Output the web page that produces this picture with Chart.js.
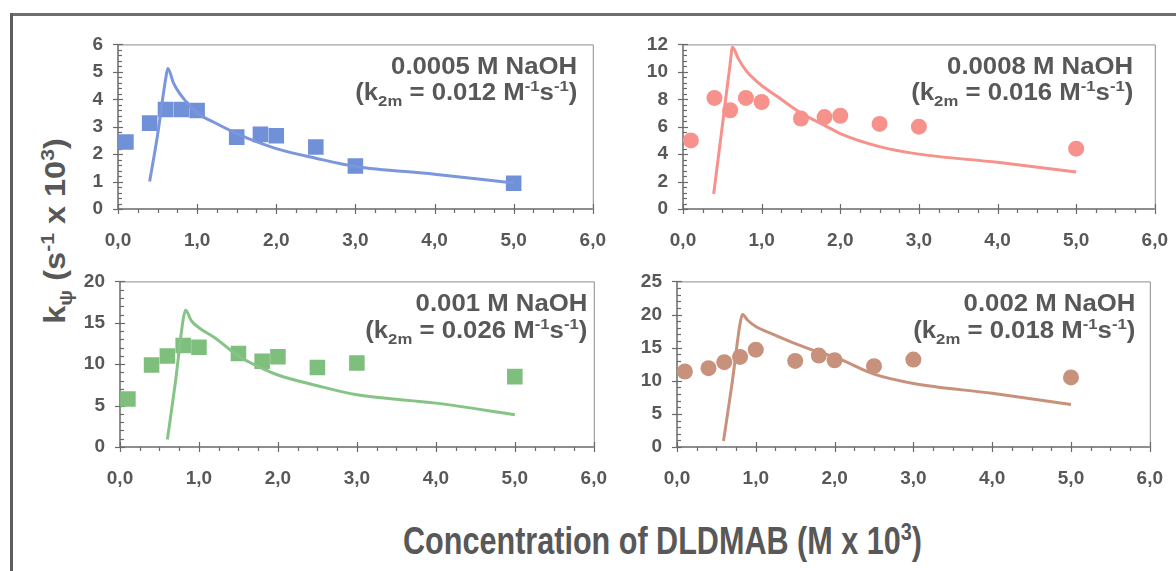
<!DOCTYPE html>
<html><head><meta charset="utf-8">
<script src="https://cdn.jsdelivr.net/npm/chart.js@4.4.0/dist/chart.umd.min.js"></script>
<style>
html,body{margin:0;padding:0;background:#fff;width:1176px;height:571px;overflow:hidden;position:relative;font-family:"Liberation Sans",Arial,sans-serif;}
canvas{position:absolute;}
.frameTop{position:absolute;left:10px;top:13px;width:1166px;height:3px;background:#6e6e6e;}
.frameLeft{position:absolute;left:10px;top:13px;width:3px;height:560px;background:#5e5e5e;}
.ann{position:absolute;white-space:nowrap;font-weight:bold;font-size:23px;line-height:23px;color:#585858;transform:scaleX(1.12);transform-origin:right center;}
.ann sup,.ann sub{font-size:65%;line-height:0;}
#ytitle{position:absolute;left:55px;top:231px;white-space:nowrap;font-weight:bold;font-size:29px;line-height:30px;color:#585858;transform:translate(-50%,-50%) rotate(-90deg) scaleX(1.12);}
#ytitle sup,#ytitle sub{font-size:65%;line-height:0;}
#xtitle{position:absolute;left:403px;top:521px;white-space:nowrap;font-weight:bold;font-size:38px;line-height:40px;color:#585858;font-family:"Liberation Sans Narrow","Arial Narrow","Liberation Sans",sans-serif;transform-origin:left center;}
#xtitle sup{font-size:65%;line-height:0;}
</style>
</head><body>
<div class="frameTop"></div><div class="frameLeft"></div>
<div id="ytitle">k<sub>ψ</sub> (s<sup>-1</sup> x 10<sup>3</sup>)</div>
<div id="xtitle">Concentration of DLDMAB (M x 10<sup>3</sup>)</div>
<script>
// ---------- data ----------
const xTickLabels = ['0,0','1,0','2,0','3,0','4,0','5,0','6,0'];
const concObs = [0.1, 0.4, 0.6, 0.8, 1.0, 1.5, 1.8, 2.0, 2.5, 3.0, 5.0];

const kObs0005 = [2.44, 3.13, 3.63, 3.63, 3.59, 2.62, 2.72, 2.67, 2.26, 1.57, 0.94];
const kObs0008 = [5.0, 8.1, 7.2, 8.1, 7.8, 6.6, 6.7, 6.8, 6.2, 6.0, 4.4];
const kObs001  = [5.8, 9.9, 11.0, 12.25, 12.05, 11.3, 10.35, 10.9, 9.6, 10.15, 8.5];
const kObs002  = [11.4, 11.9, 12.8, 13.6, 14.7, 13.0, 13.8, 13.1, 12.2, 13.2, 10.5];

const concFit0005 = [0.4, 0.5, 0.6, 0.63, 0.7, 0.77, 0.85, 1.0, 1.2, 1.5, 1.8, 2.0, 2.5, 3.0, 4.0, 5.0];
const kFit0005    = [1.0, 2.7, 4.7, 5.12, 4.6, 4.25, 3.95, 3.5, 3.18, 2.75, 2.4, 2.2, 1.85, 1.55, 1.27, 0.95];
const concFit0008 = [0.39, 0.5, 0.6, 0.63, 0.7, 0.8, 0.9, 1.0, 1.2, 1.5, 1.8, 2.0, 2.5, 3.0, 4.0, 5.0];
const kFit0008    = [1.1, 6.05, 10.6, 11.8, 11.0, 10.1, 9.5, 9.0, 8.2, 7.0, 6.1, 5.5, 4.55, 4.0, 3.4, 2.7];
const concFit001  = [0.6, 0.7, 0.8, 0.83, 0.9, 1.0, 1.2, 1.5, 1.8, 2.0, 2.5, 3.0, 4.0, 5.0];
const kFit001     = [0.9, 7.7, 15.4, 16.55, 15.3, 14.4, 13.2, 11.0, 9.5, 8.7, 7.4, 6.3, 5.3, 3.9];
const concFit002  = [0.59, 0.7, 0.8, 0.83, 0.9, 1.0, 1.2, 1.5, 1.8, 2.0, 2.5, 3.0, 4.0, 5.0];
const kFit002     = [0.9, 9.7, 18.6, 20.0, 19.1, 18.2, 17.1, 15.6, 14.3, 13.6, 11.0, 9.6, 8.1, 6.4];

const yTicks0005 = [0, 1, 2, 3, 4, 5, 6];
const yTicks0008 = [0, 2, 4, 6, 8, 10, 12];
const yTicks001  = [0, 5, 10, 15, 20];
const yTicks002  = [0, 5, 10, 15, 20, 25];

const naohLabels = ['0.0005 M NaOH', '0.0008 M NaOH', '0.001 M NaOH', '0.002 M NaOH'];
const k2mValues  = ['0.012', '0.016', '0.026', '0.018'];

// ---------- layout / style ----------
const panels = [
  {obs:kObs0005, fx:concFit0005, fy:kFit0005, yt:yTicks0005, yMinor:0.2, color:'#7090d8', line:'#7a96dc', style:'rect', r:11,
   box:{L:118,R:596,T:44,B:209}, annR:577, b1:74, b2:100},
  {obs:kObs0008, fx:concFit0008, fy:kFit0008, yt:yTicks0008, yMinor:0.4, color:'#f6918b', line:'#f6918b', style:'circle', r:8,
   box:{L:683,R:1158,T:44,B:209}, annR:1133, b1:74, b2:100},
  {obs:kObs001, fx:concFit001, fy:kFit001, yt:yTicks001, yMinor:1, color:'#7ebf7e', line:'#86c486', style:'rect', r:11,
   box:{L:120,R:597,T:281,B:447}, annR:587, b1:311, b2:338},
  {obs:kObs002, fx:concFit002, fy:kFit002, yt:yTicks002, yMinor:1, color:'#c8917c', line:'#c8917c', style:'circle', r:8,
   box:{L:677,R:1153,T:281,B:447}, annR:1135, b1:311, b2:338}
];

const TXT = '#585858';
const tickFont = {family:'Liberation Sans', size:19, weight:700};
const YPAD = 15;

const axisFrame = {
  id:'axisFrame',
  beforeDatasetsDraw(chart, args, o){
    const {ctx, chartArea:a, scales:{x, y}} = chart;
    ctx.save();
    ctx.strokeStyle = '#8c8c8c'; ctx.lineWidth = 1;
    ctx.beginPath();
    ctx.moveTo(a.left, a.top + 0.5); ctx.lineTo(a.right + 0.5, a.top + 0.5); ctx.lineTo(a.right + 0.5, a.bottom);
    ctx.stroke();
    ctx.strokeStyle = '#6a6a6a'; ctx.lineWidth = 1.5;
    ctx.beginPath();
    ctx.moveTo(a.left, a.top); ctx.lineTo(a.left, a.bottom); ctx.lineTo(a.right, a.bottom);
    ctx.stroke();
    ctx.lineWidth = 1.2;
    const nx = Math.round((x.max - x.min) / o.xMinor);
    for (let i = 0; i <= nx; i++) {
      const v = x.min + i * o.xMinor;
      const major = Math.abs(v / o.xMajor - Math.round(v / o.xMajor)) < 1e-6;
      const px = Math.round(x.getPixelForValue(v)) + 0.5;
      ctx.beginPath();
      ctx.moveTo(px, a.bottom + (major ? 5 : 4));
      ctx.lineTo(px, a.bottom - (major ? 5 : 0));
      ctx.stroke();
    }
    const ny = Math.round((y.max - y.min) / o.yMinor);
    for (let i = 0; i <= ny; i++) {
      const v = y.min + i * o.yMinor;
      const major = Math.abs(v / o.yMajor - Math.round(v / o.yMajor)) < 1e-6;
      const py = Math.round(y.getPixelForValue(v)) + 0.5;
      ctx.beginPath();
      ctx.moveTo(a.left - (major ? 5 : 0), py);
      ctx.lineTo(a.left + (major ? 5 : 4), py);
      ctx.stroke();
    }
    ctx.restore();
  }
};

// the y scale reserves (padding + half label height) above the plot area
const PADL = 60, PADT = YPAD + tickFont.size * 1.2 / 2, PADR = 30, PADB = 45;

panels.forEach((p, idx) => {
  const c = document.createElement('canvas');
  const W = (p.box.R - p.box.L) + PADL + PADR;
  const H = Math.round((p.box.B - p.box.T) + PADT + PADB);
  c.width = W; c.height = H;
  c.style.left = (p.box.L - PADL) + 'px';
  c.style.top = (p.box.B + PADB - H) + 'px';
  c.style.width = W + 'px'; c.style.height = H + 'px';
  document.body.appendChild(c);

  const fitPts = p.fx.map((v, i) => ({x:v, y:p.fy[i]}));
  const obsPts = concObs.map((v, i) => ({x:v, y:p.obs[i]}));

  new Chart(c, {
    type:'scatter',
    data:{datasets:[
      {data:fitPts, showLine:true, borderColor:p.line, borderWidth:3, pointRadius:0, cubicInterpolationMode:'monotone', fill:false},
      {data:obsPts, showLine:false, pointStyle:p.style, pointRadius:p.r, pointHoverRadius:p.r, backgroundColor:p.color, borderColor:p.color, borderWidth:0}
    ]},
    options:{
      responsive:false, maintainAspectRatio:false, animation:false, devicePixelRatio:1,
      layout:{padding:{top:0, right:PADR, left:0, bottom:0}},
      plugins:{legend:{display:false}, tooltip:{enabled:false},
        axisFrame:{xMinor:0.25, xMajor:1, yMinor:p.yMinor, yMajor:p.yt[1] - p.yt[0]}},
      scales:{
        x:{type:'linear', min:0, max:6,
           ticks:{stepSize:1, padding:20, color:TXT, font:tickFont, maxRotation:0, autoSkip:false,
                  callback:(v) => xTickLabels[Math.round(v)]},
           grid:{display:false, drawTicks:false}, border:{display:false},
           afterFit:(s) => { s.height = PADB; }},
        y:{type:'linear', min:p.yt[0], max:p.yt[p.yt.length - 1],
           ticks:{stepSize:p.yt[1] - p.yt[0], padding:YPAD, color:TXT, font:tickFont, autoSkip:false},
           grid:{display:false, drawTicks:false}, border:{display:false},
           afterFit:(s) => { s.width = PADL; }}
      }
    },
    plugins:[axisFrame]
  });

  const a1 = document.createElement('div');
  a1.className = 'ann';
  a1.textContent = naohLabels[idx];
  a1.style.right = (1176 - p.annR) + 'px';
  a1.style.top = (p.b1 - 19.5) + 'px';
  document.body.appendChild(a1);
  const a2 = document.createElement('div');
  a2.className = 'ann';
  a2.innerHTML = '(k<sub>2m</sub> = ' + k2mValues[idx] + ' M<sup>-1</sup>s<sup>-1</sup>)';
  a2.style.right = (1176 - p.annR) + 'px';
  a2.style.top = (p.b2 - 19.5) + 'px';
  document.body.appendChild(a2);
});

const xt = document.getElementById('xtitle');
const w = xt.getBoundingClientRect().width;
xt.style.transform = 'scaleX(' + (519 / w) + ')';
</script>
</body></html>
